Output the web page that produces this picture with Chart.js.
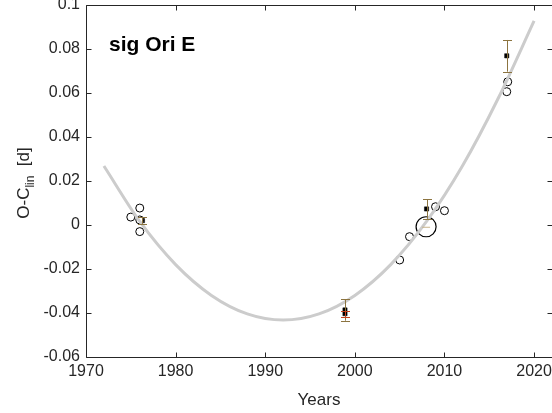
<!DOCTYPE html>
<html>
<head>
<meta charset="utf-8">
<script src="https://cdn.jsdelivr.net/npm/chart.js@4/dist/chart.umd.min.js"></script>
<style>
html,body{margin:0;padding:0;background:#fff;}
canvas{display:block;}
</style>
</head>
<body>
<canvas id="c" width="552" height="413"></canvas>
<script>
// ---- data ----
const xTicks = [1970, 1980, 1990, 2000, 2010, 2020];
const yTicks = [-0.06, -0.04, -0.02, 0, 0.02, 0.04, 0.06, 0.08, 0.1];

// fitted quadratic ephemeris curve (gray)
const curveYears  = [1972, 1976, 1980, 1984, 1988, 1992, 1996, 2000, 2004, 2008, 2012, 2016, 2020];
const curveValues = [0.0268, 0.0016, -0.018, -0.032, -0.0404, -0.0432, -0.0404, -0.032, -0.018, 0.0016, 0.0268, 0.0576, 0.0928];

// open circles
const circleYears  = [1976.0, 1975.0, 1976.0, 1976.0, 2005.0, 2006.1, 2009.0, 2010.0, 2017.06, 2016.95];
const circleValues = [0.0077, 0.0036, 0.0023, -0.0030, -0.0159, -0.0053, 0.0083, 0.0065, 0.0651, 0.0606];

// large open circle
const bigYears  = [2007.95];
const bigValues = [-0.0008];

// filled squares with error bars
const squareYears  = [1976.3, 1998.9, 1998.9, 2008.0, 2016.95];
const squareValues = [0.0020, -0.0386, -0.0403, 0.0073, 0.0769];
const squareErrors = [0.0015, 0.0049, 0.0013, 0.0045, 0.0072];
const squareErrColors = ['#8c7440', '#8c7440', '#c8401a', '#8c7440', '#8c7440'];

const FONT = "'Liberation Sans', Arial, sans-serif";
const TXT = '#262626';

function pts(xs, ys){ return xs.map((x,i)=>({x:x, y:ys[i]})); }

const framePlugin = {
  id: 'frame',
  afterDatasetDraw(chart, args){
    if (args.index !== 0) return;
    const ctx = chart.ctx, xs = chart.scales.x, ys = chart.scales.y;
    ctx.save();
    ctx.lineWidth = 1;
    squareYears.forEach((yr,i)=>{
      const px = Math.round(xs.getPixelForValue(yr)) + 0.5;
      const top = ys.getPixelForValue(squareValues[i] + squareErrors[i]);
      const bot = ys.getPixelForValue(squareValues[i] - squareErrors[i]);
      ctx.strokeStyle = squareErrColors[i];
      ctx.beginPath();
      ctx.moveTo(px, top); ctx.lineTo(px, bot);
      ctx.moveTo(px-4.5, Math.round(top)+0.5); ctx.lineTo(px+4.5, Math.round(top)+0.5);
      ctx.moveTo(px-4.5, Math.round(bot)+0.5); ctx.lineTo(px+4.5, Math.round(bot)+0.5);
      ctx.stroke();
    });
    ctx.restore();
  },
  afterDraw(chart){
    const ctx = chart.ctx, a = chart.chartArea, xs = chart.scales.x, ys = chart.scales.y;
    ctx.save();
    ctx.strokeStyle = TXT;
    ctx.lineWidth = 1;
    const L = Math.round(a.left)+0.5, R = Math.round(a.right)+0.5, T = Math.round(a.top)+0.5, B = Math.round(a.bottom)+0.5;
    ctx.beginPath();
    ctx.moveTo(L,T); ctx.lineTo(R,T); ctx.lineTo(R,B); ctx.lineTo(L,B); ctx.closePath();
    const tl = 5;
    xTicks.forEach(v=>{
      const p = Math.round(xs.getPixelForValue(v))+0.5;
      ctx.moveTo(p,B); ctx.lineTo(p,B-tl);
      ctx.moveTo(p,T); ctx.lineTo(p,T+tl);
    });
    yTicks.forEach(v=>{
      const p = Math.round(ys.getPixelForValue(v))+0.5;
      ctx.moveTo(L,p); ctx.lineTo(L+tl,p);
      ctx.moveTo(R,p); ctx.lineTo(R-tl,p);
    });
    ctx.stroke();

    // tiny tan marks inside the large circle
    const bx = xs.getPixelForValue(bigYears[0]), by = ys.getPixelForValue(bigValues[0]);
    ctx.strokeStyle = '#c8b48c';
    ctx.beginPath(); ctx.moveTo(bx-4, by+0.5); ctx.lineTo(bx+4, by+0.5); ctx.stroke();

    // title
    ctx.fillStyle = '#000';
    ctx.font = "bold 21px " + FONT;
    ctx.textBaseline = 'alphabetic';
    ctx.textAlign = 'left';
    ctx.fillText('sig Ori E', 109, 51);

    // x axis title
    ctx.fillStyle = TXT;
    ctx.font = "17px " + FONT;
    ctx.textAlign = 'center';
    ctx.fillText('Years', (a.left + a.right)/2, 405);

    // y axis title with subscript
    ctx.save();
    ctx.translate(29, 183);
    ctx.rotate(-Math.PI/2);
    ctx.textAlign = 'left';
    const f1 = "17px " + FONT, f2 = "12px " + FONT;
    ctx.font = f1; const w1 = ctx.measureText('O-C').width;
    ctx.font = f2; const w2 = ctx.measureText('lin').width;
    ctx.font = f1; const w3 = ctx.measureText('  [d]').width;
    let x0 = -(w1+w2+w3)/2;
    ctx.font = f1; ctx.fillText('O-C', x0, 0);
    ctx.font = f2; ctx.fillText('lin', x0+w1, 5);
    ctx.font = f1; ctx.fillText('  [d]', x0+w1+w2, 0);
    ctx.restore();

    ctx.restore();
  }
};

new Chart(document.getElementById('c'), {
  type: 'scatter',
  data: {
    datasets: [
      {
        type: 'line',
        data: pts(curveYears, curveValues),
        borderColor: 'rgb(204,204,204)',
        borderWidth: 3,
        pointRadius: 0,
        tension: 0.4,
        cubicInterpolationMode: 'monotone',
        fill: false
      },
      {
        data: pts(circleYears, circleValues),
        pointStyle: 'circle',
        pointRadius: 4,
        borderColor: '#000',
        backgroundColor: '#fff',
        borderWidth: 1
      },
      {
        data: pts(bigYears, bigValues),
        pointStyle: 'circle',
        pointRadius: 10,
        borderColor: '#000',
        backgroundColor: 'rgba(255,255,255,0)',
        borderWidth: 1.2
      },
      {
        data: pts(squareYears, squareValues),
        pointStyle: 'rect',
        pointRadius: 3,
        borderColor: '#000',
        backgroundColor: '#000',
        borderWidth: 0.5
      }
    ]
  },
  options: {
    responsive: false,
    animation: false,
    devicePixelRatio: 1,
    clip: false,
    layout: { autoPadding: false, padding: { top: 5, right: 0, left: 0, bottom: 0 } },
    plugins: { legend: { display: false }, tooltip: { enabled: false } },
    scales: {
      x: {
        type: 'linear', min: 1970, max: 2022,
        grid: { display: false, drawTicks: false },
        border: { display: false },
        afterBuildTicks(s){ s.ticks = xTicks.map(v=>({value:v})); },
        afterFit(s){ s.height = 56; s.paddingLeft = 0; s.paddingRight = 0; },
        ticks: { padding: 5, color: TXT, font: { family: FONT, size: 16 }, maxRotation: 0,
          callback: v => String(v) }
      },
      y: {
        type: 'linear', min: -0.06, max: 0.1,
        grid: { display: false, drawTicks: false },
        border: { display: false },
        afterBuildTicks(s){ s.ticks = yTicks.map(v=>({value:v})); },
        afterFit(s){ s.width = 86; s.paddingTop = 0; s.paddingBottom = 0; },
        ticks: { padding: 6, color: TXT, font: { family: FONT, size: 16 },
          callback: v => String(Number(v.toFixed(2))) }
      }
    }
  },
  plugins: [framePlugin]
});
</script>
</body>
</html>
